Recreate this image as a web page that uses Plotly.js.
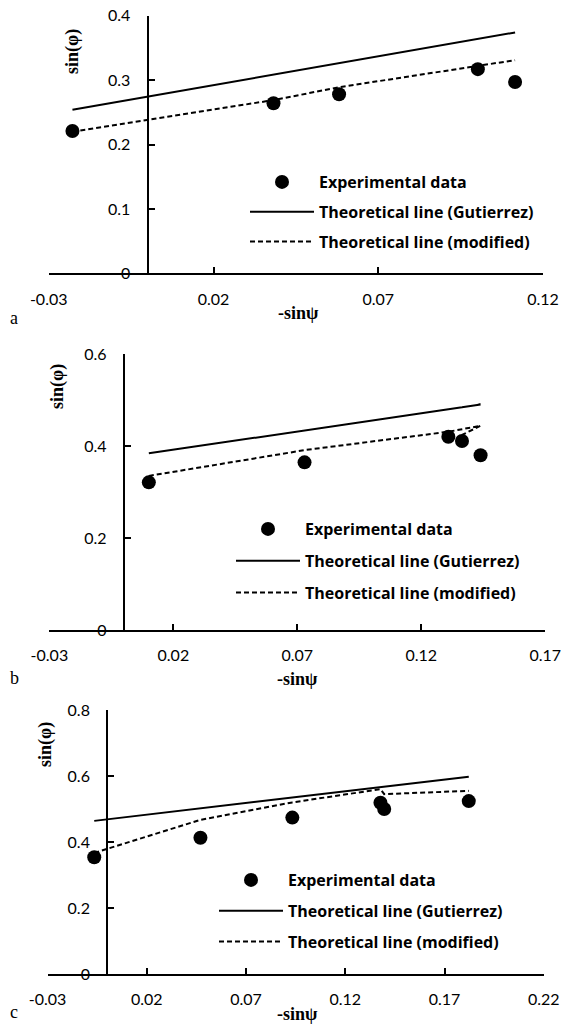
<!DOCTYPE html>
<html>
<head>
<meta charset="utf-8">
<script src="https://cdn.plot.ly/plotly-3.0.1.min.js"></script>
<style>html,body{margin:0;padding:0;background:#fff;}</style>
</head>
<body>
<div id="chart" style="width:561px;height:1025px;"></div>
<script>
// ---------- Data ----------
// Panel a
const a_x   = [-0.0228, 0.0382, 0.0581, 0.1002, 0.1115];
const a_exp = [0.221, 0.264, 0.278, 0.317, 0.297];
const a_gut = [0.254, 0.309, 0.327, 0.364, 0.374];
const a_mod = [0.220, 0.269, 0.289, 0.323, 0.331];
// Panel b
const b_x   = [0.0101, 0.0729, 0.1309, 0.1439, 0.1364];
const b_exp = [0.321, 0.3645, 0.420, 0.380, 0.411];
const b_gut = [0.384, 0.434, 0.480, 0.490, 0.484];
const b_mod = [0.335, 0.391, 0.431, 0.444, 0.424];
// Panel c
const c_x   = [-0.0065, 0.047, 0.0933, 0.1377, 0.1396, 0.1822];
const c_exp = [0.354, 0.413, 0.474, 0.519, 0.500, 0.524];
const c_gut = [0.464, 0.502, 0.535, 0.566, 0.568, 0.598];
const c_mod = [0.367, 0.467, 0.520, 0.560, 0.545, 0.555];

// Tick labels
const a_xticks = [-0.03, 0.02, 0.07, 0.12];
const a_xtext  = ['-0.03', '0.02', '0.07', '0.12'];
const a_yticks = [0, 0.1, 0.2, 0.3, 0.4];
const a_ytext  = ['0', '0.1', '0.2', '0.3', '0.4'];
const b_xticks = [-0.03, 0.02, 0.07, 0.12, 0.17];
const b_xtext  = ['-0.03', '0.02', '0.07', '0.12', '0.17'];
const b_yticks = [0, 0.2, 0.4, 0.6];
const b_ytext  = ['0', '0.2', '0.4', '0.6'];
const c_xticks = [-0.03, 0.02, 0.07, 0.12, 0.17, 0.22];
const c_xtext  = ['-0.03', '0.02', '0.07', '0.12', '0.17', '0.22'];
const c_yticks = [0, 0.2, 0.4, 0.6, 0.8];
const c_ytext  = ['0', '0.2', '0.4', '0.6', '0.8'];

const names = ['Experimental data', 'Theoretical line (Gutierrez)', 'Theoretical line (modified)'];

// ---------- Layout helpers ----------
const W = 561, H = 1025;
const TICKFONT = {family: 'Lato, sans-serif', size: 16, color: '#000'};
const LEGFONT = {family: '"Open Sans", sans-serif', size: 16, color: '#000', weight: 'bold'};
const SERIF = {family: '"Liberation Serif", "Times New Roman", serif', size: 18, color: '#000'};
const EPS = 1e-7;

function px2fx(p) { return p / W; }
function py2fy(p) { return 1 - p / H; }

const panels = [
  {id: '', x: a_x, e: a_exp, g: a_gut, m: a_mod, xr: [-0.03, 0.12], yr: [0, 0.4],
   xpx: [48.7, 543.1], ypx: [273.4, 15.7], xt: a_xticks, xtt: a_xtext, yt: a_yticks, ytt: a_ytext,
   leg: [245, 165], gap: 6, ytitle: [72, 52], xtitle: [298, 313], label: [14, 318], letter: 'a'},
  {id: '2', x: b_x, e: b_exp, g: b_gut, m: b_mod, xr: [-0.03, 0.17], yr: [0, 0.6],
   xpx: [49.4, 545.3], ypx: [630, 354], xt: b_xticks, xtt: b_xtext, yt: b_yticks, ytt: b_ytext,
   leg: [231, 512], gap: 8, ytitle: [57, 387], xtitle: [297, 679], label: [14, 678], letter: 'b'},
  {id: '3', x: c_x, e: c_exp, g: c_gut, m: c_mod, xr: [-0.03, 0.22], yr: [0, 0.8],
   xpx: [47.6, 543.8], ypx: [974, 710], xt: c_xticks, xtt: c_xtext, yt: c_yticks, ytt: c_ytext,
   leg: [214, 863], gap: 7, ytitle: [45, 745], xtitle: [297, 1014], label: [14, 1012], letter: 'c'}
];

const data = [];
const layout = {
  width: W, height: H, autosize: false,
  margin: {l: 0, r: 0, t: 0, b: 0, pad: 0},
  paper_bgcolor: '#fff', plot_bgcolor: 'rgba(0,0,0,0)',
  showlegend: true,
  annotations: []
};

panels.forEach((p, i) => {
  const xa = 'x' + p.id, ya = 'y' + p.id;
  const xkey = 'xaxis' + p.id, ykey = 'yaxis' + p.id;
  const legkey = 'legend' + p.id;
  const grp = 'p' + i;
  data.push({type: 'scatter', mode: 'markers', x: p.x, y: p.e, xaxis: xa, yaxis: ya,
    name: names[0], legend: legkey, legendgroup: grp + 'e',
    marker: {color: '#000', size: 14, line: {width: 0}}, cliponaxis: false});
  data.push({type: 'scatter', mode: 'lines', x: p.x, y: p.g, xaxis: xa, yaxis: ya,
    name: names[1], legend: legkey, legendgroup: grp + 'g',
    line: {color: '#000', width: 2}});
  data.push({type: 'scatter', mode: 'lines', x: p.x, y: p.m, xaxis: xa, yaxis: ya,
    name: names[2], legend: legkey, legendgroup: grp + 'm',
    line: {color: '#000', width: 2, dash: '5px,3px'}});

  const xd = [px2fx(p.xpx[0]), px2fx(p.xpx[1])];
  const yd = [py2fy(p.ypx[0]), py2fy(p.ypx[1])];
  const ypos = xd[0] + (0 - p.xr[0]) / (p.xr[1] - p.xr[0]) * (xd[1] - xd[0]);

  layout[xkey] = {
    domain: xd, range: [p.xr[0] - EPS, p.xr[1] + EPS], anchor: ya,
    showline: true, linecolor: '#000', linewidth: 2,
    ticks: 'inside', ticklen: 6, tickwidth: 2, tickcolor: '#000',
    tickvals: p.xt, ticktext: p.xtt, tickfont: TICKFONT, ticklabelstandoff: 10,
    ticklabeloverflow: 'allow',
    showgrid: false, zeroline: false, fixedrange: true
  };
  layout[ykey] = {
    domain: yd, range: [p.yr[0], p.yr[1] + EPS], anchor: 'free', position: ypos,
    showline: true, linecolor: '#000', linewidth: 2,
    ticks: 'inside', ticklen: 6, tickwidth: 2, tickcolor: '#000',
    tickvals: p.yt, ticktext: p.ytt, tickfont: TICKFONT, ticklabelstandoff: 13,
    ticklabeloverflow: 'allow',
    showgrid: false, zeroline: false, fixedrange: true
  };
  layout[legkey] = {
    x: px2fx(p.leg[0]), y: py2fy(p.leg[1]), xanchor: 'left', yanchor: 'top',
    xref: 'paper', yref: 'paper',
    bgcolor: 'rgba(0,0,0,0)', borderwidth: 0,
    font: LEGFONT, tracegroupgap: p.gap, itemwidth: 64, traceorder: 'grouped'
  };
  layout.annotations.push({
    text: '<b>sin(φ)</b>', x: px2fx(p.ytitle[0]), y: py2fy(p.ytitle[1]),
    xref: 'paper', yref: 'paper', showarrow: false, textangle: -90,
    xanchor: 'center', yanchor: 'middle', font: SERIF
  });
  layout.annotations.push({
    text: '<b>-sinψ</b>', x: px2fx(p.xtitle[0]), y: py2fy(p.xtitle[1]),
    xref: 'paper', yref: 'paper', showarrow: false,
    xanchor: 'center', yanchor: 'middle', font: SERIF
  });
  layout.annotations.push({
    text: p.letter, x: px2fx(p.label[0]), y: py2fy(p.label[1]),
    xref: 'paper', yref: 'paper', showarrow: false,
    xanchor: 'center', yanchor: 'middle', font: SERIF
  });
});

Plotly.newPlot('chart', data, layout, {staticPlot: true, displayModeBar: false});
</script>
</body>
</html>
